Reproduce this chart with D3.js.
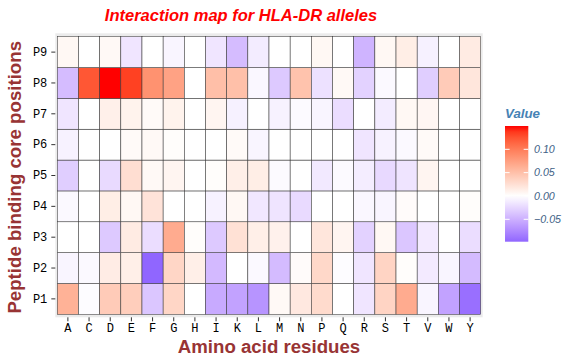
<!DOCTYPE html>
<html>
<head>
<meta charset="utf-8">
<script src="https://cdn.jsdelivr.net/npm/d3@7"></script>
<style>
  body { margin: 0; background: #fff; }
  svg { display: block; }
</style>
</head>
<body>
<div id="chart"></div>
<script>
// amino acids along x, binding core positions along y
const aminoAcids = ["A","C","D","E","F","G","H","I","K","L","M","N","P","Q","R","S","T","V","W","Y"];
const positions = ["P1","P2","P3","P4","P5","P6","P7","P8","P9"];

// one row of values per position, same order as aminoAcids
const p1 = [0.061, -0.002, 0.041, 0.039, -0.036, 0.033, 0, -0.054, -0.059, -0.068, 0.005, 0.018, 0.029, 0, -0.016, 0.034, 0.066, -0.006, -0.059, -0.092];
const p2 = [-0.006, -0.004, 0.015, 0.013, -0.098, 0.033, 0.013, -0.044, 0, -0.004, -0.043, 0.003, 0.031, -0.002, -0.016, 0.034, 0.002, -0.013, -0.006, -0.043];
const p3 = [0, 0, -0.034, 0.016, -0.021, 0.066, 0.002, -0.034, 0.024, 0.013, 0.011, 0, 0.02, 0.008, -0.028, 0.006, -0.036, -0.013, 0, -0.021];
const p4 = [-0.004, 0, 0.014, 0.006, 0.022, 0, 0, -0.008, 0.006, -0.015, -0.017, -0.023, 0, 0, -0.005, -0.006, 0.003, 0, 0, 0.002];
const p5 = [-0.031, 0, -0.023, 0.026, 0.005, 0.008, 0, 0.002, 0.013, 0.014, -0.003, 0, -0.014, -0.003, -0.011, -0.024, -0.017, 0.008, 0, 0];
const p6 = [-0.008, 0, 0, 0.004, 0.005, 0.002, 0, 0, 0.004, -0.006, 0, 0, 0, 0, -0.016, -0.008, -0.004, 0.004, 0, 0];
const p7 = [-0.016, 0, 0.012, 0.01, 0.004, 0.01, 0, 0.008, -0.009, 0, -0.008, -0.003, -0.006, -0.021, 0, -0.012, 0.006, 0.007, 0, 0];
const p8 = [-0.042, 0.123, 0.150, 0.134, 0.085, 0.073, 0, 0.051, 0.05, -0.005, -0.034, 0.048, -0.019, 0.005, -0.028, -0.004, 0, -0.031, 0.041, 0.02];
const p9 = [0.006, 0, 0.005, -0.016, 0, -0.006, 0, -0.016, -0.042, -0.012, 0, 0, 0.006, 0, -0.047, 0.006, 0.014, -0.009, 0, 0.016];

const legendTicks = [-0.05, 0, 0.05, 0.10];

const rows = [p1, p2, p3, p4, p5, p6, p7, p8, p9];
var cells = [];
rows.forEach((row, i) => {
    row.forEach((v, j) => {
        cells.push({ "pos": positions[i], "aa": aminoAcids[j], "value": v });
    });
});

const width = 577, height = 361;
const panel = { "left": 55.3, "right": 482.7, "top": 33.3, "bottom": 317.3 };

const svg = d3.select("#chart").append("svg")
    .attr("width", width).attr("height", height);

const x = d3.scaleBand().domain(aminoAcids).range([57.3, 480.7]);
const y = d3.scaleBand().domain(positions).range([314.3, 36.7]);

const vmin = d3.min(cells, d => d.value);
const vmax = d3.max(cells, d => d.value);
const lim = Math.max(Math.abs(vmin), Math.abs(vmax));
// gradient2 style: white at zero, stretched by the largest absolute value
const color = d3.scaleLinear()
    .domain([-lim, 0, lim])
    .range(["blue", "white", "red"])
    .interpolate(d3.interpolateLab);

// panel background
svg.append("rect")
    .attr("x", panel.left).attr("y", panel.top)
    .attr("width", panel.right - panel.left)
    .attr("height", panel.bottom - panel.top)
    .attr("fill", "#ebebeb");

svg.append("g").selectAll("rect")
    .data(cells)
    .join("rect")
    .attr("x", d => x(d.aa))
    .attr("y", d => y(d.pos))
    .attr("width", x.bandwidth())
    .attr("height", y.bandwidth())
    .attr("fill", d => color(d.value))
    .attr("stroke", "#3a3a3a")
    .attr("stroke-width", 0.55);

// axes
const monoFont = "'Liberation Mono', 'Courier New', monospace";

const yAxis = svg.append("g")
    .attr("transform", `translate(${panel.left},0)`)
    .call(d3.axisLeft(y).tickSize(4).tickPadding(4));
yAxis.select(".domain").remove();
yAxis.selectAll("line").attr("stroke", "#333");
yAxis.selectAll("text")
    .attr("fill", "#000")
    .style("font-family", monoFont)
    .style("font-size", "12px");

const xAxis = svg.append("g")
    .attr("transform", `translate(0,${panel.bottom})`)
    .call(d3.axisBottom(x).tickSize(4).tickPadding(2));
xAxis.select(".domain").remove();
xAxis.selectAll("line").attr("stroke", "#333");
xAxis.selectAll("text")
    .attr("fill", "#000")
    .style("font-family", monoFont)
    .style("font-size", "12px");

// titles
svg.append("text")
    .attr("x", 241).attr("y", 20.7)
    .attr("text-anchor", "middle")
    .attr("fill", "#ff0000")
    .style("font-family", "'Liberation Sans', Arial, sans-serif")
    .style("font-size", "16.5px")
    .style("font-weight", "bold")
    .style("font-style", "italic")
    .text("Interaction map for HLA-DR alleles");

const axisTitleColor = "#983434";
svg.append("text")
    .attr("x", (panel.left + panel.right) / 2).attr("y", 353.3)
    .attr("text-anchor", "middle")
    .attr("fill", axisTitleColor)
    .style("font-family", "'Liberation Sans', Arial, sans-serif")
    .style("font-size", "18.67px")
    .style("font-weight", "bold")
    .text("Amino acid residues");

svg.append("text")
    .attr("transform", `translate(21,${(panel.top + panel.bottom) / 2 + 2}) rotate(-90)`)
    .attr("text-anchor", "middle")
    .attr("fill", axisTitleColor)
    .style("font-family", "'Liberation Sans', Arial, sans-serif")
    .style("font-size", "18.67px")
    .style("font-weight", "bold")
    .text("Peptide binding core positions");

// legend colourbar
const leg = { "x": 505, "w": 23.3, "top": 126, "bottom": 241.7 };
const yLeg = d3.scaleLinear().domain([vmin, vmax]).range([leg.bottom, leg.top]);

const grad = svg.append("defs").append("linearGradient")
    .attr("id", "legend-grad")
    .attr("x1", 0).attr("y1", 1).attr("x2", 0).attr("y2", 0);
d3.range(0, 1.0001, 0.05).forEach(t => {
    grad.append("stop")
        .attr("offset", t)
        .attr("stop-color", color(vmin + t * (vmax - vmin)));
});

svg.append("text")
    .attr("x", leg.x).attr("y", 118)
    .attr("fill", "steelblue")
    .style("font-family", "'Liberation Sans', Arial, sans-serif")
    .style("font-size", "13.3px")
    .style("font-weight", "bold")
    .style("font-style", "italic")
    .text("Value");

svg.append("rect")
    .attr("x", leg.x).attr("y", leg.top)
    .attr("width", leg.w).attr("height", leg.bottom - leg.top)
    .attr("fill", "url(#legend-grad)");

const legTicks = svg.append("g");
legTicks.selectAll("line.l")
    .data(legendTicks)
    .join("line")
    .attr("x1", leg.x).attr("x2", leg.x + 4.6)
    .attr("y1", d => yLeg(d)).attr("y2", d => yLeg(d))
    .attr("stroke", "#fff").attr("stroke-width", 1);
legTicks.selectAll("line.r")
    .data(legendTicks)
    .join("line")
    .attr("x1", leg.x + leg.w - 4.6).attr("x2", leg.x + leg.w)
    .attr("y1", d => yLeg(d)).attr("y2", d => yLeg(d))
    .attr("stroke", "#fff").attr("stroke-width", 1);

svg.append("g").selectAll("text")
    .data(legendTicks)
    .join("text")
    .attr("x", 534)
    .attr("y", d => yLeg(d))
    .attr("dy", "0.35em")
    .attr("fill", "#3e5f86")
    .style("font-family", "'Liberation Sans', Arial, sans-serif")
    .style("font-size", "10.7px")
    .style("font-style", "italic")
    .text(d => d3.format(".2f")(d));
</script>
</body>
</html>
